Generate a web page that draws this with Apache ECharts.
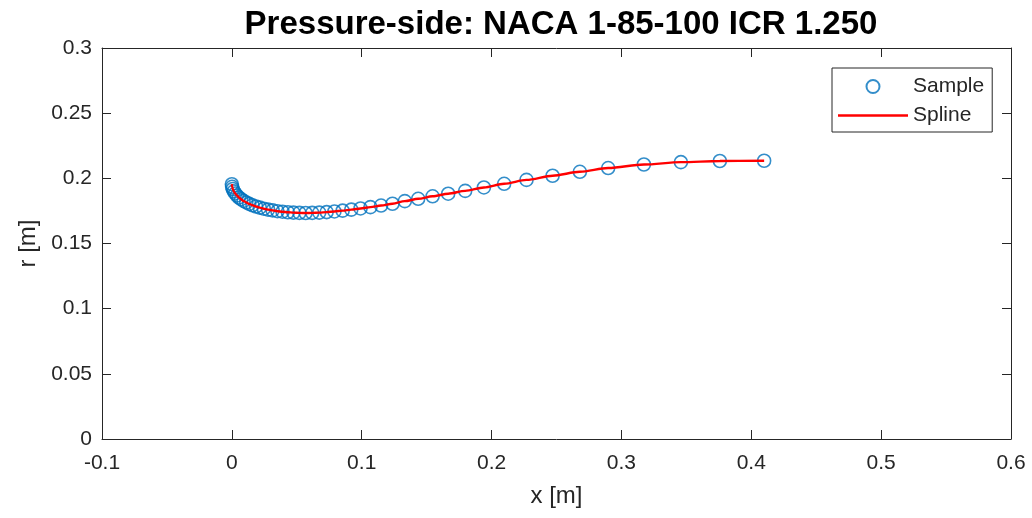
<!DOCTYPE html>
<html>
<head>
<meta charset="utf-8">
<script src="https://cdn.jsdelivr.net/npm/echarts@6/dist/echarts.min.js"></script>
<style>
  html, body { margin: 0; padding: 0; background: #fff; }
  #chart { width: 1032px; height: 518px; }
</style>
</head>
<body>
<div id="chart"></div>
<script>
// Pressure-side sample points of the blade section (x along chord, r radius), metres
const sampleX = [
  0, 0.0002, 0.0007, 0.0015, 0.0026, 0.0039, 0.0054, 0.0071, 0.0090, 0.0111,
  0.0134, 0.0159, 0.0186, 0.0215, 0.0246, 0.0279, 0.0314, 0.0351, 0.0390, 0.0431,
  0.0474, 0.0520, 0.0568, 0.0619, 0.0673, 0.0730, 0.0790, 0.0853, 0.0920, 0.0991,
  0.1067, 0.1149, 0.1237, 0.1332, 0.1435, 0.1546, 0.1666, 0.1797, 0.1941, 0.2097,
  0.2269, 0.2470, 0.2680, 0.2898, 0.3173, 0.3458, 0.3758, 0.4099
];
const sampleR = [
  0.1955, 0.1935, 0.1918, 0.1900, 0.1884, 0.1868, 0.1853, 0.1840, 0.1827, 0.1815,
  0.1804, 0.1793, 0.1784, 0.1775, 0.1767, 0.1760, 0.1754, 0.1748, 0.1744, 0.1740,
  0.1737, 0.1735, 0.1734, 0.1735, 0.1737, 0.1741, 0.1746, 0.1752, 0.1760, 0.1769,
  0.1779, 0.1791, 0.1805, 0.1825, 0.1843, 0.1862, 0.1882, 0.1904, 0.1930, 0.1958,
  0.1988, 0.2020, 0.2050, 0.2079, 0.2106, 0.2124, 0.2133, 0.2135
];

// Axis ranges and tick steps
const xRange = [-0.1, 0.6];
const xStep = 0.1;
const rRange = [0, 0.3];
const rStep = 0.05;

const titleText = 'Pressure-side: NACA 1-85-100 ICR 1.250';
const xName = 'x [m]';
const rName = 'r [m]';
const sampleName = 'Sample';
const splineName = 'Spline';

const points = sampleX.map((x, i) => [x, sampleR[i]]);

const ink = '#262626';
const font = 'Liberation Sans, Arial, Helvetica, sans-serif';
const fmt = v => String(+v.toFixed(3));

const baseAxis = {
  axisLine: { show: true, onZero: false, lineStyle: { color: ink, width: 1 } },
  axisTick: { show: true, inside: true, length: 9, lineStyle: { color: ink } },
  splitLine: { show: false }
};

const chart = echarts.init(document.getElementById('chart'), null, { renderer: 'canvas' });
chart.setOption({
  animation: false,
  backgroundColor: '#ffffff',
  title: {
    text: titleText,
    left: 556, top: 3, textAlign: 'center',
    textStyle: { fontFamily: font, fontWeight: 'bold', fontSize: 33, color: '#000' }
  },
  grid: { left: 102, right: 21, top: 48, bottom: 79 },
  legend: {
    orient: 'vertical',
    left: 832, top: 68,
    padding: [8, 8, 6, 6],
    itemGap: 8,
    itemWidth: 70,
    itemHeight: 13,
    borderColor: ink,
    borderWidth: 1,
    backgroundColor: '#fff',
    textStyle: { fontFamily: font, fontSize: 21, color: ink },
    data: [
      { name: sampleName },
      { name: splineName, icon: 'path://M0 0 L70 0 L70 2.4 L0 2.4 Z' }
    ]
  },
  xAxis: [
    Object.assign({}, baseAxis, {
      type: 'value', min: xRange[0], max: xRange[1], interval: xStep,
      name: xName, nameLocation: 'middle', nameGap: 45,
      nameTextStyle: { fontFamily: font, fontSize: 24, color: ink },
      axisLabel: { fontFamily: font, fontSize: 21, color: ink, margin: 14, formatter: fmt }
    }),
    Object.assign({}, baseAxis, {
      type: 'value', position: 'top', min: xRange[0], max: xRange[1], interval: xStep,
      axisLabel: { show: false }
    })
  ],
  yAxis: [
    Object.assign({}, baseAxis, {
      type: 'value', min: rRange[0], max: rRange[1], interval: rStep,
      name: rName, nameLocation: 'middle', nameGap: 60, nameRotate: 90,
      nameTextStyle: { fontFamily: font, fontSize: 24, color: ink },
      axisLabel: { fontFamily: font, fontSize: 21, color: ink, margin: 10, formatter: fmt }
    }),
    Object.assign({}, baseAxis, {
      type: 'value', position: 'right', min: rRange[0], max: rRange[1], interval: rStep,
      axisLabel: { show: false }
    })
  ],
  series: [
    {
      name: sampleName,
      type: 'scatter',
      data: points,
      symbol: 'circle',
      symbolSize: 13,
      itemStyle: { color: 'rgba(0,0,0,0)', borderColor: '#0072BD', borderWidth: 1.6 },
      z: 2
    },
    {
      name: splineName,
      type: 'line',
      data: points,
      smooth: 0.3,
      smoothMonotone: 'x',
      symbol: 'none',
      lineStyle: { color: '#ff0000', width: 2.4 },
      itemStyle: { color: '#ff0000' },
      z: 3
    }
  ]
});
</script>
</body>
</html>
